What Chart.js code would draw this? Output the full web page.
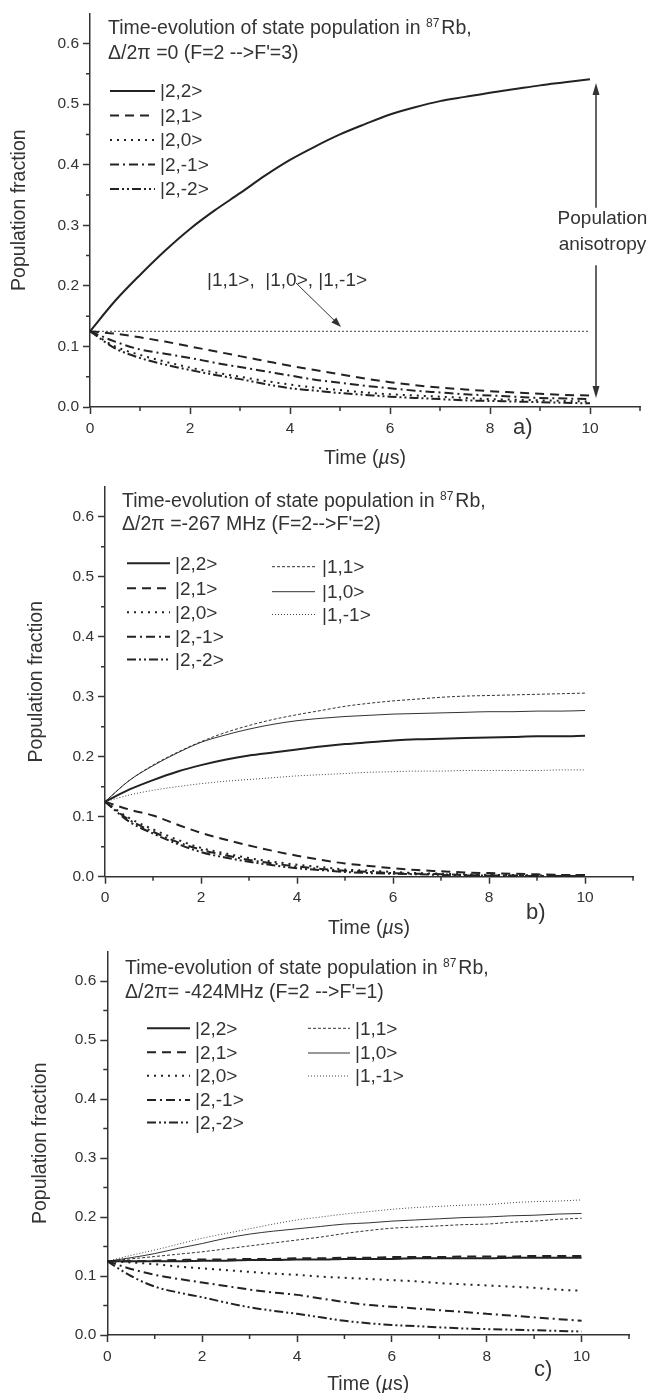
<!DOCTYPE html>
<html>
<head>
  <title>Time-evolution of state population in 87Rb</title>
  <style>
    body { margin: 0; background: #fff; }
    #wrap { position: relative; width: 664px; height: 1393px; overflow: hidden; }
    .panel { position: absolute; left: 0; width: 664px; }
    .panel canvas { display: block; }
  </style>
</head>
<body>
  <div id="wrap">
    <div class="panel" style="top:0px"><canvas id="chartA" width="664" height="480"></canvas></div>
    <div class="panel" style="top:464px"><canvas id="chartB" width="664" height="480"></canvas></div>
    <div class="panel" style="top:928px"><canvas id="chartC" width="664" height="465"></canvas></div>
  </div>

  <script src="https://cdn.jsdelivr.net/npm/chart.js"></script>
  <script>
    // time axis (µs), shared by all three panels
    const times = [0, 0.5, 1, 1.5, 2, 2.5, 3, 3.5, 4, 4.5, 5, 5.5, 6, 6.5, 7, 7.5, 8, 8.5, 9, 9.5, 10];

    // a) Δ/2π = 0 (F=2 --> F'=3)
    const a22  = [0.125,0.175,0.218,0.258,0.294,0.325,0.353,0.382,0.408,0.430,0.450,0.467,0.483,0.495,0.505,0.512,0.519,0.525,0.531,0.536,0.541];
    const a21  = [0.125,0.121,0.115,0.108,0.100,0.092,0.084,0.076,0.068,0.061,0.054,0.047,0.041,0.036,0.032,0.029,0.026,0.024,0.022,0.020,0.019];
    const a20  = [0.125,0.100,0.086,0.075,0.065,0.057,0.050,0.043,0.037,0.032,0.028,0.024,0.021,0.019,0.017,0.015,0.013,0.012,0.011,0.010,0.009];
    const a2m1 = [0.125,0.108,0.095,0.088,0.081,0.073,0.066,0.059,0.052,0.045,0.040,0.035,0.031,0.027,0.024,0.021,0.019,0.017,0.015,0.014,0.013];
    const a2m2 = [0.125,0.097,0.081,0.070,0.061,0.053,0.046,0.038,0.031,0.027,0.023,0.020,0.017,0.015,0.013,0.011,0.010,0.009,0.008,0.007,0.006];
    const a1x  = [0.125,0.125,0.125,0.125,0.125,0.125,0.125,0.125,0.125,0.125,0.125,0.125,0.125,0.125,0.125,0.125,0.125,0.125,0.125,0.125,0.125];

    // b) Δ/2π = -267 MHz (F=2 --> F'=2)
    const b22  = [0.125,0.145,0.161,0.175,0.186,0.195,0.202,0.207,0.212,0.217,0.221,0.224,0.227,0.229,0.230,0.231,0.232,0.233,0.234,0.234,0.235];
    const b21  = [0.125,0.112,0.102,0.087,0.073,0.062,0.052,0.043,0.035,0.028,0.022,0.018,0.014,0.011,0.009,0.007,0.006,0.005,0.004,0.003,0.003];
    const b20  = [0.125,0.098,0.079,0.062,0.048,0.039,0.031,0.025,0.020,0.016,0.012,0.010,0.008,0.006,0.005,0.004,0.003,0.003,0.002,0.002,0.002];
    const b2m1 = [0.125,0.095,0.075,0.058,0.045,0.036,0.028,0.022,0.017,0.013,0.010,0.008,0.006,0.005,0.004,0.003,0.002,0.002,0.001,0.001,0.001];
    const b2m2 = [0.125,0.092,0.072,0.055,0.041,0.032,0.025,0.019,0.014,0.011,0.008,0.006,0.005,0.004,0.003,0.002,0.002,0.001,0.001,0.001,0.001];
    const b11  = [0.125,0.160,0.186,0.207,0.225,0.240,0.252,0.262,0.270,0.277,0.284,0.289,0.293,0.296,0.299,0.301,0.302,0.303,0.304,0.305,0.306];
    const b10  = [0.125,0.160,0.185,0.206,0.224,0.236,0.246,0.254,0.260,0.264,0.267,0.269,0.271,0.272,0.273,0.274,0.275,0.275,0.276,0.276,0.277];
    const b1m1 = [0.125,0.136,0.144,0.150,0.155,0.159,0.162,0.165,0.168,0.170,0.172,0.174,0.175,0.176,0.176,0.177,0.177,0.177,0.177,0.178,0.178];

    // c) Δ/2π = -424 MHz (F=2 --> F'=1)
    const c22  = [0.125,0.125,0.125,0.125,0.126,0.126,0.127,0.127,0.128,0.128,0.129,0.129,0.129,0.130,0.130,0.130,0.130,0.131,0.131,0.131,0.131];
    const c21  = [0.125,0.125,0.126,0.127,0.128,0.128,0.129,0.129,0.130,0.130,0.131,0.131,0.132,0.132,0.132,0.133,0.133,0.133,0.134,0.134,0.134];
    const c20  = [0.125,0.123,0.120,0.116,0.113,0.110,0.107,0.104,0.102,0.099,0.097,0.095,0.093,0.091,0.088,0.086,0.084,0.082,0.080,0.077,0.075];
    const c2m1 = [0.125,0.112,0.102,0.095,0.089,0.083,0.077,0.072,0.068,0.062,0.056,0.051,0.048,0.045,0.042,0.039,0.036,0.033,0.030,0.027,0.024];
    const c2m2 = [0.125,0.100,0.082,0.072,0.064,0.055,0.047,0.041,0.036,0.030,0.024,0.020,0.017,0.015,0.013,0.011,0.010,0.009,0.008,0.007,0.006];
    const c11  = [0.125,0.129,0.133,0.137,0.141,0.146,0.151,0.156,0.161,0.166,0.172,0.177,0.181,0.183,0.185,0.187,0.188,0.191,0.193,0.196,0.198];
    const c10  = [0.125,0.131,0.138,0.147,0.155,0.164,0.171,0.176,0.180,0.184,0.188,0.190,0.193,0.195,0.197,0.199,0.200,0.202,0.203,0.205,0.206];
    const c1m1 = [0.125,0.135,0.144,0.154,0.164,0.172,0.180,0.188,0.195,0.200,0.205,0.209,0.213,0.216,0.218,0.220,0.221,0.224,0.226,0.227,0.229];

    // tick values
    const xMinor = [1, 3, 5, 7, 9, 11];
    const yMinor = [0.05, 0.15, 0.25, 0.35, 0.45, 0.55];

    const FONT = '"Liberation Sans", Arial, Helvetica, sans-serif';
    const INK = '#333';

    const pts = vals => times.map((t, i) => ({ x: t, y: vals[i] }));

    // line styles
    const st = {
      s22:  { borderColor: '#222', borderWidth: 2,   borderDash: [] },
      s21:  { borderColor: '#222', borderWidth: 2,   borderDash: [9, 6] },
      s20:  { borderColor: '#222', borderWidth: 2,   borderDash: [2, 5] },
      s2m1: { borderColor: '#222', borderWidth: 2,   borderDash: [9, 4, 2, 4] },
      s2m2: { borderColor: '#222', borderWidth: 2,   borderDash: [9, 3, 2, 3, 2, 3] },
      s11:  { borderColor: '#333', borderWidth: 1,   borderDash: [3, 2] },
      s10:  { borderColor: '#333', borderWidth: 1,   borderDash: [] },
      s1m1: { borderColor: '#444', borderWidth: 1,   borderDash: [1, 2] },
      sAll: { borderColor: '#444', borderWidth: 1,   borderDash: [2, 2] }
    };
    const ds = (label, vals, style) => Object.assign({ label, data: pts(vals) }, style);

    // parts: [text, superscript?, italic?]
    function drawRich(ctx, x, y, parts, size) {
      ctx.textBaseline = 'alphabetic';
      ctx.textAlign = 'left';
      parts.forEach(p => {
        ctx.font = (p[2] ? 'italic ' : '') + (p[1] ? '12px ' : size + 'px ') + FONT;
        ctx.fillText(p[0], x, p[1] ? y - 7 : y);
        x += ctx.measureText(p[0]).width + (p[1] ? 2 : 0);
      });
    }
    function richWidth(ctx, parts, size) {
      let w = 0;
      parts.forEach(p => {
        ctx.font = (p[2] ? 'italic ' : '') + (p[1] ? '12px ' : size + 'px ') + FONT;
        w += ctx.measureText(p[0]).width;
      });
      return w;
    }

    function arrowHead(ctx, x1, y1, x2, y2, len, half) {
      const a = Math.atan2(y2 - y1, x2 - x1);
      ctx.beginPath();
      ctx.moveTo(x2, y2);
      ctx.lineTo(x2 - len * Math.cos(a) + half * Math.sin(a), y2 - len * Math.sin(a) - half * Math.cos(a));
      ctx.lineTo(x2 - len * Math.cos(a) - half * Math.sin(a), y2 - len * Math.sin(a) + half * Math.cos(a));
      ctx.closePath();
      ctx.fill();
    }

    const xTitle = [['Time ('], ['\u00b5', 0, 1], ['s)']];

    // text, legend and annotations for each panel
    const decor = {
      chartA: {
        title: [
          { x: 108, y: 34, parts: [['Time-evolution of state population in '], ['87', 1], ['Rb,']] },
          { x: 108, y: 59, parts: [['\u0394/2\u03c0 =0 (F=2 -->F\'=3)']] }
        ],
        legend: [
          { ds: 0, x1: 110, x2: 155, tx: 160, y: 91 },
          { ds: 1, x1: 110, x2: 155, tx: 160, y: 115.5 },
          { ds: 2, x1: 110, x2: 155, tx: 160, y: 140 },
          { ds: 3, x1: 110, x2: 155, tx: 160, y: 164.5 },
          { ds: 4, x1: 110, x2: 155, tx: 160, y: 189 }
        ],
        letter: { t: 'a)', x: 513, y: 428 },
        xTitleY: 464
      },
      chartB: {
        title: [
          { x: 122, y: 42.5, parts: [['Time-evolution of state population in '], ['87', 1], ['Rb,']] },
          { x: 122, y: 66, parts: [['\u0394/2\u03c0 =-267 MHz (F=2-->F\'=2)']] }
        ],
        legend: [
          { ds: 0, x1: 127, x2: 170, tx: 175, y: 99.3 },
          { ds: 1, x1: 127, x2: 170, tx: 175, y: 124.3 },
          { ds: 2, x1: 127, x2: 170, tx: 175, y: 148.3 },
          { ds: 3, x1: 127, x2: 170, tx: 175, y: 172.7 },
          { ds: 4, x1: 127, x2: 170, tx: 175, y: 195.5 },
          { ds: 5, x1: 272, x2: 315, tx: 322, y: 102.7 },
          { ds: 6, x1: 272, x2: 315, tx: 322, y: 127.7 },
          { ds: 7, x1: 272, x2: 315, tx: 322, y: 150.5 }
        ],
        letter: { t: 'b)', x: 526, y: 449 },
        xTitleY: 470
      },
      chartC: {
        title: [
          { x: 125, y: 46, parts: [['Time-evolution of state population in '], ['87', 1], ['Rb,']] },
          { x: 125, y: 70, parts: [['\u0394/2\u03c0= -424MHz (F=2 -->F\'=1)']] }
        ],
        legend: [
          { ds: 0, x1: 147, x2: 190, tx: 195, y: 100.3 },
          { ds: 1, x1: 147, x2: 190, tx: 195, y: 124.3 },
          { ds: 2, x1: 147, x2: 190, tx: 195, y: 147.7 },
          { ds: 3, x1: 147, x2: 190, tx: 195, y: 172 },
          { ds: 4, x1: 147, x2: 190, tx: 195, y: 194.5 },
          { ds: 5, x1: 308, x2: 350, tx: 355, y: 100.3 },
          { ds: 6, x1: 308, x2: 350, tx: 355, y: 125 },
          { ds: 7, x1: 308, x2: 350, tx: 355, y: 148 }
        ],
        letter: { t: 'c)', x: 534, y: 442 },
        xTitleY: 462
      }
    };

    const minorTicks = {
      id: 'minorTicks',
      afterDraw(chart) {
        const { ctx, chartArea: a, scales: { x, y } } = chart;
        ctx.save();
        ctx.strokeStyle = INK;
        ctx.lineWidth = 1.5;
        ctx.beginPath();
        xMinor.forEach(v => {
          const px = x.getPixelForValue(v);
          ctx.moveTo(px, a.bottom);
          ctx.lineTo(px, a.bottom + 4);
        });
        yMinor.forEach(v => {
          const py = y.getPixelForValue(v);
          ctx.moveTo(a.left, py);
          ctx.lineTo(a.left - 4, py);
        });
        ctx.stroke();
        ctx.restore();
      }
    };

    const panelDecor = {
      id: 'panelDecor',
      afterDraw(chart) {
        const d = decor[chart.canvas.id];
        const ctx = chart.ctx;
        const area = chart.chartArea;
        ctx.save();
        ctx.fillStyle = INK;
        d.title.forEach(l => drawRich(ctx, l.x, l.y, l.parts, 19.5));

        // x axis title with italic µ, centred under the plot area
        const tw = richWidth(ctx, xTitle, 19.5);
        drawRich(ctx, (area.left + area.right) / 2 - tw / 2, d.xTitleY, xTitle, 19.5);

        d.legend.forEach(item => {
          const set = chart.data.datasets[item.ds];
          ctx.strokeStyle = set.borderColor;
          ctx.lineWidth = set.borderWidth;
          ctx.setLineDash(set.borderDash);
          ctx.beginPath();
          ctx.moveTo(item.x1, item.y);
          ctx.lineTo(item.x2, item.y);
          ctx.stroke();
          ctx.setLineDash([]);
          ctx.font = '19px ' + FONT;
          ctx.textBaseline = 'middle';
          ctx.textAlign = 'left';
          ctx.fillText(set.label, item.tx, item.y + 1);
        });

        ctx.font = '22px ' + FONT;
        ctx.textBaseline = 'middle';
        ctx.textAlign = 'left';
        ctx.fillText(d.letter.t, d.letter.x, d.letter.y);

        if (chart.canvas.id === 'chartA') {
          const { x, y } = chart.scales;
          // label for the three F=1 states and its pointer
          ctx.font = '19px ' + FONT;
          ctx.textBaseline = 'alphabetic';
          ctx.fillText(chart.data.datasets[5].label, 207, 286);
          ctx.strokeStyle = INK;
          ctx.lineWidth = 1;
          ctx.beginPath();
          ctx.moveTo(296, 283);
          ctx.lineTo(338, 324);
          ctx.stroke();
          arrowHead(ctx, 296, 283, 341, 327, 10, 3.5);

          // population anisotropy double arrow
          const ax = x.getPixelForValue(10.12);
          const yTop = y.getPixelForValue(0.535);
          const yBot = y.getPixelForValue(0.015);
          const gapTop = y.getPixelForValue(0.329);
          const gapBot = y.getPixelForValue(0.234);
          ctx.lineWidth = 1.5;
          ctx.beginPath();
          ctx.moveTo(ax, yTop + 8);
          ctx.lineTo(ax, gapTop);
          ctx.moveTo(ax, gapBot);
          ctx.lineTo(ax, yBot - 8);
          ctx.stroke();
          arrowHead(ctx, ax, yTop + 20, ax, yTop, 12, 3.5);
          arrowHead(ctx, ax, yBot - 20, ax, yBot, 12, 3.5);
          ctx.textAlign = 'center';
          ctx.textBaseline = 'middle';
          ctx.fillText('Population', 602.5, 219);
          ctx.fillText('anisotropy', 602.5, 245);
        }
        ctx.restore();
      }
    };

    function makePanel(id, datasets, g) {
      return new Chart(document.getElementById(id), {
        type: 'line',
        data: { datasets },
        plugins: [minorTicks, panelDecor],
        options: {
          responsive: false,
          animation: false,
          events: [],
          layout: { padding: { top: g.top, right: 664 - g.right, left: 0, bottom: 0 } },
          elements: {
            point: { radius: 0 },
            line: { cubicInterpolationMode: 'monotone', fill: false }
          },
          plugins: { legend: { display: false }, tooltip: { enabled: false } },
          scales: {
            x: {
              type: 'linear', min: 0, max: 11,
              afterFit: s => { s.height = g.h - g.bottom; },
              ticks: {
                stepSize: 2, includeBounds: false, padding: 5, color: INK,
                maxRotation: 0, autoSkip: false,
                font: { family: FONT, size: 15.5 }
              },
              grid: { drawOnChartArea: false, drawTicks: true, tickLength: 7, tickColor: INK, tickWidth: 1.5 },
              border: { color: INK, width: 1.5 },
              title: { display: false }
            },
            y: {
              min: 0, max: 0.65,
              afterFit: s => { s.width = g.left; },
              ticks: {
                stepSize: 0.1, includeBounds: false, padding: 4, color: INK,
                font: { family: FONT, size: 15.5 },
                callback: v => v.toFixed(1)
              },
              grid: { drawOnChartArea: false, drawTicks: true, tickLength: 7, tickColor: INK, tickWidth: 1.5 },
              border: { color: INK, width: 1.5 },
              title: {
                display: true, text: 'Population fraction', color: INK,
                font: { family: FONT, size: 19.5, lineHeight: 1 },
                padding: { top: g.ytPad, bottom: 0 }
              }
            }
          }
        }
      });
    }

    makePanel('chartA', [
      ds('|2,2>', a22, st.s22),
      ds('|2,1>', a21, st.s21),
      ds('|2,0>', a20, st.s20),
      ds('|2,-1>', a2m1, st.s2m1),
      ds('|2,-2>', a2m2, st.s2m2),
      ds('|1,1>,  |1,0>, |1,-1>', a1x, st.sAll)
    ], { h: 480, top: 12, left: 90, right: 640, bottom: 407, ytPad: 10.25 });

    makePanel('chartB', [
      ds('|2,2>', b22, st.s22),
      ds('|2,1>', b21, st.s21),
      ds('|2,0>', b20, st.s20),
      ds('|2,-1>', b2m1, st.s2m1),
      ds('|2,-2>', b2m2, st.s2m2),
      ds('|1,1>', b11, st.s11),
      ds('|1,0>', b10, st.s10),
      ds('|1,-1>', b1m1, st.s1m1)
    ], { h: 480, top: 22.7, left: 105, right: 633, bottom: 412.7, ytPad: 27.25 });

    makePanel('chartC', [
      ds('|2,2>', c22, st.s22),
      ds('|2,1>', c21, st.s21),
      ds('|2,0>', c20, st.s20),
      ds('|2,-1>', c2m1, st.s2m1),
      ds('|2,-2>', c2m2, st.s2m2),
      ds('|1,1>', c11, st.s11),
      ds('|1,0>', c10, st.s10),
      ds('|1,-1>', c1m1, st.s1m1)
    ], { h: 465, top: 23.5, left: 107.3, right: 629, bottom: 407, ytPad: 31.25 });
  </script>
</body>
</html>
